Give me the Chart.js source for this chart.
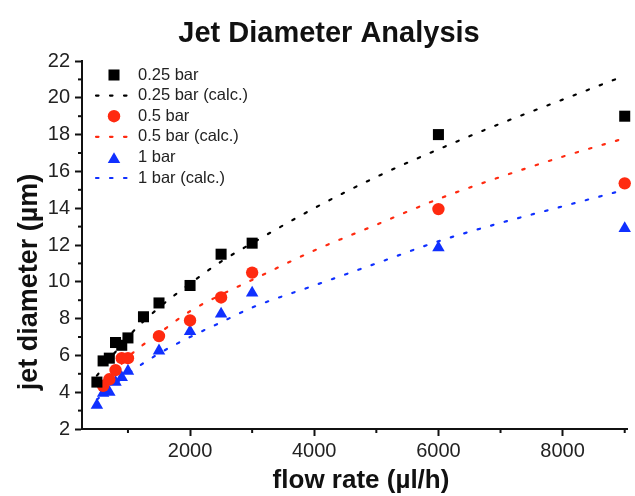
<!DOCTYPE html>
<html>
<head>
<meta charset="utf-8">
<script src="https://cdn.jsdelivr.net/npm/chart.js@4.4.0/dist/chart.umd.min.js"></script>
<style>
  html, body { margin: 0; padding: 0; background: #fff; }
  #wrap { width: 635px; height: 496px; }
</style>
</head>
<body>
<div id="wrap"><canvas id="jetChart" width="635" height="496"></canvas></div>
<script>
// measured points (flow rate in ul/h, diameter in um)
const flow025 = [500, 600, 700, 800, 900, 1000, 1250, 1500, 2000, 2500, 3000, 6000, 9000];
const diam025 = [4.55, 5.7, 5.85, 6.7, 6.55, 6.95, 8.1, 8.85, 9.8, 11.5, 12.1, 18.0, 19.0];

const flow05 = [600, 700, 800, 900, 1000, 1500, 2000, 2500, 3000, 6000, 9000];
const diam05 = [4.35, 4.7, 5.2, 5.85, 5.85, 7.05, 7.9, 9.15, 10.5, 13.95, 15.35];

const flow1 = [500, 600, 700, 800, 900, 1000, 1500, 2000, 2500, 3000, 6000, 9000];
const diam1 = [3.3, 3.95, 4.0, 4.55, 4.8, 5.15, 6.25, 7.3, 8.25, 9.4, 11.85, 12.9];

// calculated curves
const calcFlow025 = [500, 1000, 1500, 2000, 2500, 3000, 4000, 5000, 6000, 7000, 8000, 9000];
const calcDiam025 = [4.9, 7.0, 8.6, 9.9, 11.1, 12.1, 14.0, 15.7, 17.2, 18.6, 19.9, 21.2];

const calcFlow05 = [600, 1000, 1500, 2000, 2500, 3000, 4000, 5000, 6000, 7000, 8000, 9000];
const calcDiam05 = [4.4, 5.9, 7.2, 8.4, 9.3, 10.1, 11.7, 13.1, 14.5, 15.7, 16.8, 17.8];

const calcFlow1 = [500, 1000, 1500, 2000, 2500, 3000, 4000, 5000, 6000, 7000, 8000, 9000];
const calcDiam1 = [3.6, 5.0, 6.1, 7.0, 7.8, 8.6, 9.8, 11.0, 12.2, 13.2, 14.1, 15.0];

const seriesLabels = ['0.25 bar', '0.25 bar (calc.)', '0.5 bar', '0.5 bar (calc.)', '1 bar', '1 bar (calc.)'];

// axis ticks (labels only on the even ones)
const xTickValues = [1000, 2000, 3000, 4000, 5000, 6000, 7000, 8000, 9000];
const xLabelled = [2000, 4000, 6000, 8000];
const yTickValues = [2, 3, 4, 5, 6, 7, 8, 9, 10, 11, 12, 13, 14, 15, 16, 17, 18, 19, 20, 21, 22];
const yLabelled = [2, 4, 6, 8, 10, 12, 14, 16, 18, 20, 22];

const titleText = 'Jet Diameter Analysis';
const xTitle = 'flow rate (\u00b5l/h)';
const yTitle = 'jet diameter (\u00b5m)';

const black = '#000000';
const red = '#ff2a10';
const blue = '#1030ff';
const fontFamily = "Arial, 'Liberation Sans', Helvetica, sans-serif";

function toPoints(xs, ys) {
    return xs.map((x, i) => ({ x: x, y: ys[i] }));
}

function markerSet(label, xs, ys, color, style, radius) {
    return {
        type: 'scatter',
        label: label,
        data: toPoints(xs, ys),
        pointStyle: style,
        pointRadius: radius,
        pointHoverRadius: radius,
        backgroundColor: color,
        borderColor: color,
        borderWidth: 0,
        clip: false
    };
}

function calcSet(label, xs, ys, color) {
    return {
        type: 'line',
        label: label,
        data: toPoints(xs, ys),
        borderColor: color,
        borderWidth: 2.2,
        borderDash: [2.5, 11.5],
        borderCapStyle: 'round',
        pointRadius: 0,
        cubicInterpolationMode: 'monotone',
        fill: false,
        clip: false
    };
}

// minor ticks, titles and the legend inside the plot
const decorations = {
    id: 'decorations',
    afterDraw(chart) {
        const ctx = chart.ctx;
        const area = chart.chartArea;
        const xs = chart.scales.x;
        const ys = chart.scales.y;
        ctx.save();

        ctx.strokeStyle = '#111';
        ctx.lineWidth = 2;
        xTickValues.filter(v => !xLabelled.includes(v)).forEach(v => {
            const px = xs.getPixelForValue(v);
            ctx.beginPath();
            ctx.moveTo(px, area.bottom);
            ctx.lineTo(px, area.bottom + 4);
            ctx.stroke();
        });
        yTickValues.filter(v => !yLabelled.includes(v)).forEach(v => {
            const py = ys.getPixelForValue(v);
            ctx.beginPath();
            ctx.moveTo(area.left, py);
            ctx.lineTo(area.left - 4, py);
            ctx.stroke();
        });

        ctx.fillStyle = '#111';
        ctx.textAlign = 'center';
        ctx.textBaseline = 'alphabetic';
        ctx.font = 'bold 29px ' + fontFamily;
        ctx.fillText(titleText, 329, 42);

        ctx.font = 'bold 26px ' + fontFamily;
        ctx.fillText(xTitle, 361, 488);

        ctx.save();
        ctx.translate(37, 282);
        ctx.rotate(-Math.PI / 2);
        ctx.font = 'bold 27px ' + fontFamily;
        ctx.fillText(yTitle, 0, 0);
        ctx.restore();

        const rowTop = 75;
        const rowStep = 20.6;
        const symX = 114;
        ctx.font = '16.5px ' + fontFamily;
        ctx.textAlign = 'left';
        ctx.textBaseline = 'middle';
        chart.data.datasets.forEach((ds, i) => {
            const y = rowTop + i * rowStep;
            const color = ds.borderColor;
            if (ds.type === 'line') {
                ctx.strokeStyle = color;
                ctx.lineWidth = 2.2;
                ctx.lineCap = 'round';
                ctx.setLineDash([2.5, 11.5]);
                ctx.beginPath();
                ctx.moveTo(96, y);
                ctx.lineTo(130, y);
                ctx.stroke();
                ctx.setLineDash([]);
            } else {
                ctx.fillStyle = color;
                ctx.strokeStyle = color;
                Chart.helpers.drawPoint(ctx, {
                    pointStyle: ds.pointStyle,
                    radius: ds.pointRadius,
                    borderWidth: 0
                }, symX, ds.pointStyle === 'triangle' ? y + 2 : y);
            }
            ctx.fillStyle = '#222';
            ctx.fillText(ds.label, 138, y);
        });
        ctx.restore();
    }
};

function tickFormat(labelled) {
    return v => (labelled.includes(v) ? String(v) : '');
}

const chart = new Chart(document.getElementById('jetChart'), {
    data: {
        datasets: [
            markerSet(seriesLabels[0], flow025, diam025, black, 'rect', 7.8),
            calcSet(seriesLabels[1], calcFlow025, calcDiam025, black),
            markerSet(seriesLabels[2], flow05, diam05, red, 'circle', 6.2),
            calcSet(seriesLabels[3], calcFlow05, calcDiam05, red),
            markerSet(seriesLabels[4], flow1, diam1, blue, 'triangle', 7.2),
            calcSet(seriesLabels[5], calcFlow1, calcDiam1, blue)
        ]
    },
    options: {
        responsive: false,
        animation: false,
        layout: { padding: { top: 61, right: -2, bottom: 0, left: 0 } },
        plugins: {
            legend: { display: false },
            title: { display: false },
            tooltip: { enabled: false }
        },
        scales: {
            x: {
                type: 'linear',
                min: 260,
                max: 9040,
                afterFit(scale) { scale.height = 67; },
                afterBuildTicks(scale) { scale.ticks = xTickValues.map(v => ({ value: v })); },
                border: { display: true, color: '#111', width: 2 },
                grid: {
                    drawOnChartArea: false,
                    drawTicks: true,
                    tickLength: 7,
                    tickWidth: 2,
                    tickColor: c => (c.tick && xLabelled.includes(c.tick.value)) ? '#111' : 'rgba(0,0,0,0)'
                },
                ticks: {
                    autoSkip: false,
                    maxRotation: 0,
                    padding: 3,
                    color: '#222',
                    font: { family: fontFamily, size: 20 },
                    callback: tickFormat(xLabelled)
                }
            },
            y: {
                type: 'linear',
                min: 2,
                max: 22,
                afterFit(scale) { scale.width = 82; },
                afterBuildTicks(scale) { scale.ticks = yTickValues.map(v => ({ value: v })); },
                border: { display: true, color: '#111', width: 2 },
                grid: {
                    drawOnChartArea: false,
                    drawTicks: true,
                    tickLength: 7,
                    tickWidth: 2,
                    tickColor: c => (c.tick && yLabelled.includes(c.tick.value)) ? '#111' : 'rgba(0,0,0,0)'
                },
                ticks: {
                    autoSkip: false,
                    padding: 5,
                    color: '#222',
                    font: { family: fontFamily, size: 20 },
                    callback: tickFormat(yLabelled)
                }
            }
        }
    },
    plugins: [decorations]
});
</script>
</body>
</html>
